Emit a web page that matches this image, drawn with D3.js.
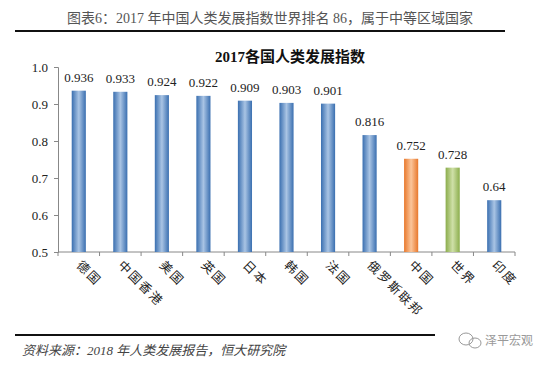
<!DOCTYPE html>
<html>
<head>
<meta charset="utf-8">
<script src="https://cdn.jsdelivr.net/npm/d3@7"></script>
<style>
	body { margin: 0; background: #fff; }
	svg { display: block; }
</style>
</head>
<body>
<div id="chart"></div>
<script>
var countries = ["德国", "中国香港", "美国", "英国", "日本", "韩国", "法国", "俄罗斯联邦", "中国", "世界", "印度"];
var hdiValues = [0.936, 0.933, 0.924, 0.922, 0.909, 0.903, 0.901, 0.816, 0.752, 0.728, 0.64];
var valueLabels = ["0.936", "0.933", "0.924", "0.922", "0.909", "0.903", "0.901", "0.816", "0.752", "0.728", "0.64"];
var barKinds = ["blue", "blue", "blue", "blue", "blue", "blue", "blue", "blue", "orange", "green", "blue"];
var yTicks = [0.5, 0.6, 0.7, 0.8, 0.9, 1.0];

var width = 550, height = 365;
var serif = "'Liberation Serif', 'Noto Sans CJK SC', serif";
var cjk = "'Noto Sans CJK SC', sans-serif";

var svg = d3.select("#chart").append("svg")
	.attr("width", width)
	.attr("height", height);

// gradients for bars (dark edges, light middle)
var palette = {
	blue: ["#3a6fb0", "#a9c4e4"],
	orange: ["#e8782c", "#fbc59a"],
	green: ["#8bad4c", "#cfe0a8"]
};
var defs = svg.append("defs");
Object.keys(palette).forEach(function (k) {
	var g = defs.append("linearGradient").attr("id", "grad-" + k)
		.attr("x1", "0%").attr("x2", "100%").attr("y1", "0%").attr("y2", "0%");
	g.append("stop").attr("offset", "0%").attr("stop-color", palette[k][0]);
	g.append("stop").attr("offset", "50%").attr("stop-color", palette[k][1]);
	g.append("stop").attr("offset", "100%").attr("stop-color", palette[k][0]);
});

// header
svg.append("text")
	.attr("x", 270).attr("y", 23)
	.attr("text-anchor", "middle")
	.attr("font-family", serif)
	.attr("font-size", 14)
	.attr("fill", "#555")
	.text("图表6：2017 年中国人类发展指数世界排名 86，属于中等区域国家");

svg.append("rect").attr("x", 15).attr("y", 30).attr("width", 490).attr("height", 2).attr("fill", "#111");

svg.append("text")
	.attr("x", 290).attr("y", 62)
	.attr("text-anchor", "middle")
	.attr("font-family", serif)
	.attr("font-size", 15)
	.attr("font-weight", "bold")
	.attr("fill", "#111")
	.text("2017各国人类发展指数");

var margin = {left: 58, right: 35, top: 67, bottom: 113};
var plotW = width - margin.left - margin.right;
var plotH = height - margin.top - margin.bottom;

var x = d3.scaleBand().domain(countries).range([0, plotW]).paddingInner(0.66).paddingOuter(0.33);
var y = d3.scaleLinear().domain([0.5, 1.0]).range([plotH, 0]);

var g = svg.append("g").attr("transform", "translate(" + margin.left + "," + margin.top + ")");

// y axis
var yAxis = g.append("g")
	.call(d3.axisLeft(y).tickValues(yTicks).tickFormat(d3.format(".1f")).tickSize(4));
yAxis.selectAll("path, line").attr("stroke", "#888");
yAxis.selectAll("text").attr("font-family", serif).attr("font-size", 13).attr("fill", "#222").attr("dx", "-3");

// x axis with ticks between categories
var xAxisG = g.append("g").attr("transform", "translate(0," + plotH + ")");
xAxisG.append("line").attr("x1", 0).attr("x2", plotW).attr("stroke", "#888");
var step = x.step();
xAxisG.selectAll(".tk").data(d3.range(countries.length + 1)).enter().append("line")
	.attr("x1", function (i) { return i * step; })
	.attr("x2", function (i) { return i * step; })
	.attr("y1", 0).attr("y2", 4)
	.attr("stroke", "#888");

// bars
g.selectAll(".bar").data(countries).enter().append("rect")
	.attr("x", function (d) { return x(d); })
	.attr("width", x.bandwidth())
	.attr("y", function (d, i) { return y(hdiValues[i]); })
	.attr("height", function (d, i) { return plotH - y(hdiValues[i]); })
	.attr("fill", function (d, i) { return "url(#grad-" + barKinds[i] + ")"; });

// value labels
g.selectAll(".val").data(countries).enter().append("text")
	.attr("x", function (d) { return x(d) + x.bandwidth() / 2; })
	.attr("y", function (d, i) { return y(hdiValues[i]) - 9; })
	.attr("text-anchor", "middle")
	.attr("font-family", serif)
	.attr("font-size", 13)
	.attr("fill", "#222")
	.text(function (d, i) { return valueLabels[i]; });

// category labels, rotated
g.selectAll(".cat").data(countries).enter().append("text")
	.attr("transform", function (d) {
		return "translate(" + (x(d) + x.bandwidth() / 2 - 3) + "," + (plotH + 14) + ") rotate(45)";
	})
	.attr("font-family", cjk)
	.attr("font-size", 12.5)
	.attr("letter-spacing", 2)
	.attr("fill", "#222")
	.text(function (d) { return d; });

// footer
svg.append("rect").attr("x", 15).attr("y", 334).attr("width", 420).attr("height", 2).attr("fill", "#111");
svg.append("text")
	.attr("x", 22).attr("y", 355)
	.attr("font-family", serif)
	.attr("font-size", 13)
	.attr("font-style", "italic")
	.attr("fill", "#444")
	.text("资料来源：2018 年人类发展报告，恒大研究院");

// watermark
var wm = svg.append("g").attr("fill", "none").attr("stroke", "#999");
wm.append("ellipse").attr("cx", 466).attr("cy", 339).attr("rx", 7).attr("ry", 6);
wm.append("ellipse").attr("cx", 475).attr("cy", 343).attr("rx", 6).attr("ry", 5);
svg.append("text")
	.attr("x", 485).attr("y", 345)
	.attr("font-family", cjk)
	.attr("font-size", 12)
	.attr("fill", "#999")
	.text("泽平宏观");
</script>
</body>
</html>
